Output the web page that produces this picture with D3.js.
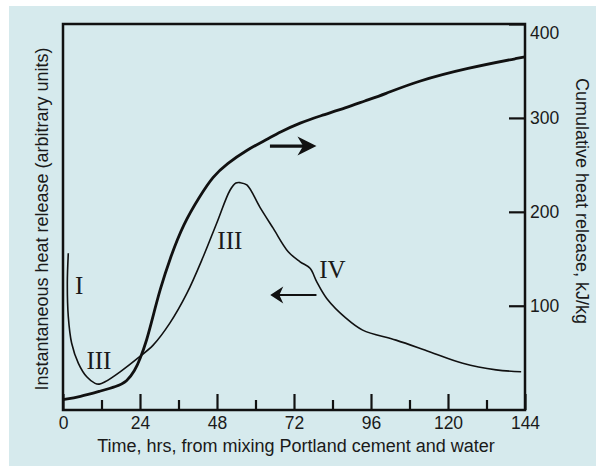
<!DOCTYPE html>
<html>
<head>
<meta charset="utf-8">
<script src="https://cdn.jsdelivr.net/npm/d3@7"></script>
<style>
  body { margin: 0; background: #fff; }
  text { font-family: "Liberation Sans", Arial, sans-serif; fill: #1a1a1a; }
  .stage { font-family: "Liberation Serif", "Times New Roman", serif; }
</style>
</head>
<body>
<div id="chart"></div>
<script>
// cumulative heat release (kJ/kg)
var cumHours  = [0, 5.3, 11.5, 16.7, 19.9, 22.4, 24, 26.1, 28, 30.2, 33.3, 37.5, 42.7, 46.8, 51, 57.3, 63.5, 67.6, 74, 80, 88.4, 94, 100, 110.3, 125.8, 144];
var cumValues = [0, 3, 9, 14, 19, 31, 43, 63, 88, 117, 150, 187, 217, 238, 251, 266, 277, 285, 295, 302, 311, 318, 325, 339, 353, 365];

// instantaneous heat release (arbitrary units, 0-100)
var instHours  = [1.65, 1.35, 1.65, 2.7, 4.8, 7.4, 10, 11.3, 13.1, 17.8, 23.7, 28.1, 33.3, 38.6, 43.7, 47.9, 52.1, 53.9, 55.2, 57.3, 61.4, 65.5, 70.2, 73.9, 77, 79.1, 82.2, 88.2, 93.4, 103.8, 114.2, 124.6, 135, 142.8];
var instValues = [40.6, 32.8, 24.2, 17.3, 12.1, 8.6, 6.9, 6.7, 7.3, 9.9, 13.7, 16.8, 22.5, 30.2, 39.7, 48.4, 57, 58.8, 58.9, 58.3, 52.5, 47.1, 41, 38.4, 36.7, 33.2, 28.9, 23.8, 20.7, 18.1, 15.1, 12.1, 10.4, 9.9];

var xMajorTicks = [0, 24, 48, 72, 96, 120, 144];
var xMinorTicks = [12, 36, 60, 84, 108, 132];
var rightTicks = [100, 200, 300, 400];

// stage labels: [text, hour, arbitrary units]
var stageNames = ["I", "III", "III", "IV"];
var stageHours = [5, 11.2, 52, 84];
var stageLevels = [30, 10.6, 41.7, 34.2];

var svgWidth = 596;
var svgHeight = 468;

var margin = {top: 24, right: 71, bottom: 58, left: 63};
var width = svgWidth - margin.left - margin.right;
var height = svgHeight - margin.top - margin.bottom;

var svg = d3.select("#chart")
    .append("svg")
    .attr("width", svgWidth)
    .attr("height", svgHeight);

// light blue panel behind everything
svg.append("rect")
    .attr("x", 9)
    .attr("y", 6)
    .attr("width", svgWidth - 9)
    .attr("height", svgHeight - 8)
    .attr("fill", "#d6eaed");

var chartGroup = svg.append("g")
    .attr("transform", `translate(${margin.left}, ${margin.top})`);

var xScale = d3.scaleLinear().domain([0, 144]).range([0, width]);
var yRight = d3.scaleLinear().domain([-11, 400]).range([height, 0]);
var yLeft = d3.scaleLinear().domain([0, 100]).range([height, 0]);

// frame
chartGroup.append("rect")
    .attr("width", width)
    .attr("height", height)
    .attr("fill", "none")
    .attr("stroke", "#111")
    .attr("stroke-width", 2.5);

// x axis, major ticks pointing inward
var bottomAxis = d3.axisBottom(xScale)
    .tickValues(xMajorTicks)
    .tickSizeInner(-16)
    .tickSizeOuter(0)
    .tickPadding(7);

var xAxisG = chartGroup.append("g")
    .attr("transform", `translate(0, ${height})`)
    .call(bottomAxis);
xAxisG.select(".domain").remove();
xAxisG.selectAll("line").attr("stroke", "#111").attr("stroke-width", 2.2);
xAxisG.selectAll("text").attr("font-size", 17.5).attr("font-family", null).attr("fill", "#1a1a1a");

var minorAxis = d3.axisBottom(xScale)
    .tickValues(xMinorTicks)
    .tickSizeInner(-10)
    .tickSizeOuter(0)
    .tickFormat("");
var minorG = chartGroup.append("g")
    .attr("transform", `translate(0, ${height})`)
    .call(minorAxis);
minorG.select(".domain").remove();
minorG.selectAll("line").attr("stroke", "#111").attr("stroke-width", 2.2);

// right axis
var rightAxis = d3.axisRight(yRight)
    .tickValues(rightTicks)
    .tickSizeInner(-16)
    .tickSizeOuter(0)
    .tickPadding(5);
var rAxisG = chartGroup.append("g")
    .attr("transform", `translate(${width}, 0)`)
    .call(rightAxis);
rAxisG.select(".domain").remove();
rAxisG.selectAll("line").attr("stroke", "#111").attr("stroke-width", 2.2);
rAxisG.selectAll("text").attr("font-size", 17.5).attr("font-family", null).attr("fill", "#1a1a1a");
// top label sits a little lower than its tick
rAxisG.selectAll("text").filter(d => d === 400).attr("dy", "0.85em");

// curves
var cumLine = d3.line()
    .x(d => xScale(d[0]))
    .y(d => yRight(d[1]))
    .curve(d3.curveBasis);

var instLine = d3.line()
    .x(d => xScale(d[0]))
    .y(d => yLeft(d[1]))
    .curve(d3.curveCatmullRom.alpha(0.5));

chartGroup.append("path")
    .datum(d3.zip(cumHours, cumValues))
    .attr("d", cumLine)
    .attr("fill", "none")
    .attr("stroke", "#111")
    .attr("stroke-width", 2.8);

chartGroup.append("path")
    .datum(d3.zip(instHours, instValues))
    .attr("d", instLine)
    .attr("fill", "none")
    .attr("stroke", "#111")
    .attr("stroke-width", 1.6);

// stage labels
chartGroup.selectAll(".stage")
    .data(stageNames)
    .enter()
    .append("text")
    .attr("class", "stage")
    .attr("x", (d, i) => xScale(stageHours[i]))
    .attr("y", (d, i) => yLeft(stageLevels[i]))
    .attr("text-anchor", "middle")
    .attr("font-size", 25)
    .text(d => d);

// arrows: right one points at the cumulative axis, left one at the instantaneous axis
function arrow(x0, x1, y, w, head, half) {
    var dir = x1 > x0 ? 1 : -1;
    chartGroup.append("line")
        .attr("x1", x0).attr("x2", x1 - dir * head * 0.6)
        .attr("y1", y).attr("y2", y)
        .attr("stroke", "#111")
        .attr("stroke-width", w);
    chartGroup.append("path")
        .attr("d", `M${x1},${y} L${x1 - dir * head},${y - half} L${x1 - dir * head * 0.7},${y} L${x1 - dir * head},${y + half} Z`)
        .attr("fill", "#111");
}
arrow(xScale(64.5), xScale(79), yRight(270), 3.2, 19, 9.5);
arrow(xScale(79), xScale(64.6), yLeft(29.8), 2, 13, 8.5);

// axis titles
svg.append("text")
    .attr("x", 296)
    .attr("y", 452)
    .attr("text-anchor", "middle")
    .attr("font-size", 18)
    .text("Time, hrs, from mixing Portland cement and water");

svg.append("text")
    .attr("transform", "translate(48, 219) rotate(-90)")
    .attr("text-anchor", "middle")
    .attr("font-size", 18)
    .text("Instantaneous heat release (arbitrary units)");

svg.append("text")
    .attr("transform", "translate(576, 201) rotate(90)")
    .attr("text-anchor", "middle")
    .attr("font-size", 18)
    .text("Cumulative heat release, kJ/kg");
</script>
</body>
</html>
